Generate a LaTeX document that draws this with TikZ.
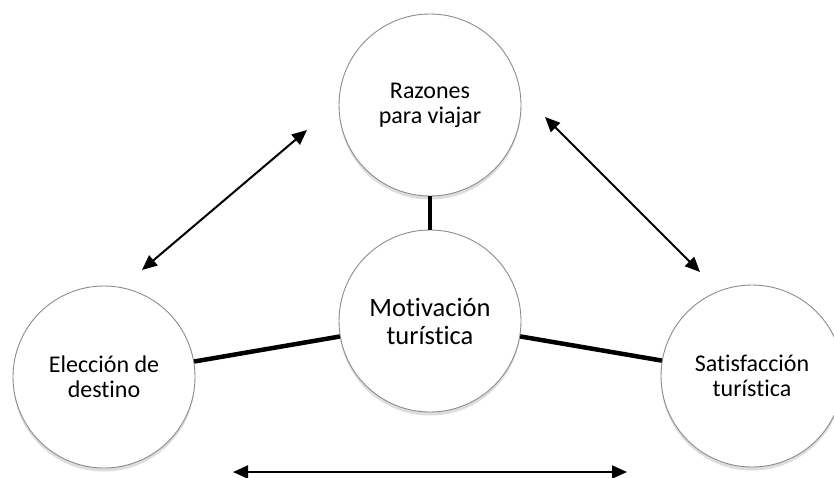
\documentclass[tikz,border=0pt]{standalone}
\usepackage{fontspec}
\setmainfont{Carlito}[Ligatures={NoCommon,NoContextual},RawFeature={-liga;-clig;-dlig}]
\usetikzlibrary{arrows.meta,shadows}
\begin{document}
\begin{tikzpicture}[x=1pt,y=-1pt,
  bubble/.style={circle, draw=black!45, line width=0.9pt, fill=white,
    minimum size=182pt, inner sep=0pt, align=center,
    font=\fontsize{24}{25}\selectfont,
    drop shadow={opacity=0.22, shadow xshift=0pt, shadow yshift=-3.5pt, fill=black!60}},
  mainbubble/.style={bubble, font=\fontsize{26.5}{28}\selectfont},
  link/.style={line width=4.5pt},
  twoway/.style={line width=2pt, {Triangle[length=15pt,width=13pt]}-{Triangle[length=15pt,width=13pt]}}]
\useasboundingbox (0,0) rectangle (834,477);
\begin{scope}
\clip (0,0) rectangle (834,477);
\node[bubble] (top) at (430,105) {Razones\\para viajar};
\node[mainbubble] (mid) at (430,321) {Motivación\\turística};
\node[bubble] (left) at (104,377) {Elección de\\destino};
\node[bubble] (right) at (752,376) {Satisfacción\\turística};
\end{scope}
\draw[link] (top) -- (mid);
\draw[link] (left) -- (mid);
\draw[link] (mid) -- (right);
\coordinate (a1) at (307,130);
\coordinate (a2) at (142,270);
\coordinate (b1) at (545,117);
\coordinate (b2) at (700,272);
\coordinate (c1) at (233,472);
\coordinate (c2) at (627,472);
\draw[twoway] (a1) -- (a2);
\draw[twoway] (b1) -- (b2);
\draw[twoway] (c1) -- (c2);
\end{tikzpicture}
\end{document}
